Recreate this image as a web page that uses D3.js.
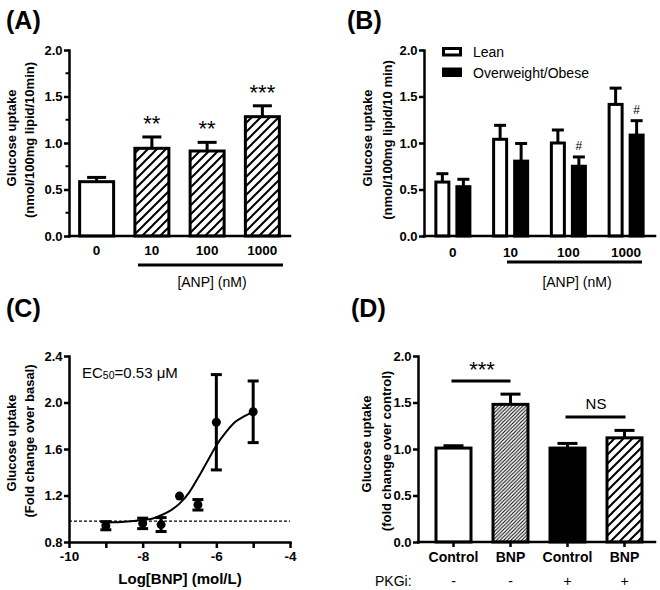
<!DOCTYPE html>
<html><head><meta charset="utf-8">
<script src="https://cdn.jsdelivr.net/npm/d3@7"></script>
<style>body{margin:0;background:#fff}svg{display:block}</style>
</head><body><svg id="c" width="660" height="590"></svg>
<script>
// ---------- DATA ----------
// (A)
const aCats = ["0", "10", "100", "1000"];
const aMean = [0.584, 0.943, 0.914, 1.283];
const aSem  = [0.046, 0.122, 0.093, 0.117];
const aSig  = ["", "**", "**", "***"];
const aTicks = [0, 0.5, 1.0, 1.5, 2.0];
const aMinor = [0.25, 0.75, 1.25, 1.75];
// (B)
const bCats = ["0", "10", "100", "1000"];
const bSeries = ["Lean", "Overweight/Obese"];
const bLean = [0.58, 1.04, 1.00, 1.415];
const bLeanSem = [0.09, 0.15, 0.14, 0.175];
const bObese = [0.53, 0.805, 0.75, 1.085];
const bObeseSem = [0.08, 0.19, 0.10, 0.155];
const bObeseSig = ["", "", "#", "#"];
const bTicks = [0, 0.5, 1.0, 1.5, 2.0];
// (C)
const cX   = [-9, -8, -7.5, -7, -6.5, -6, -5];
const cY   = [0.94, 0.96, 0.95, 1.195, 1.12, 1.83, 1.92];
const cErr = [0.035, 0.045, 0.06, 0.0, 0.045, 0.41, 0.265];
const cFitX = [-9, -8.75, -8.5, -8.25, -8, -7.75, -7.5, -7.25, -7, -6.75, -6.5, -6.25, -6, -5.75, -5.5, -5.25, -5];
const cFitY = [0.97, 0.97, 0.975, 0.98, 0.99, 1.0, 1.03, 1.07, 1.13, 1.22, 1.35, 1.49, 1.63, 1.74, 1.83, 1.88, 1.92];
const cBasal = 0.98;
const cXTicks = [-10, -9, -8, -7, -6, -5, -4];
const cXLabels = [-10, -8, -6, -4];
const cYTicks = [0.8, 1.2, 1.6, 2.0, 2.4];
// (D)
const dCats = ["Control", "BNP", "Control ", "BNP "];
const dMean = [1.01, 1.48, 1.01, 1.12];
const dSem  = [0.025, 0.11, 0.05, 0.08];
const dPKGi = ["-", "-", "+", "+"];
const dTicks = [0, 0.5, 1.0, 1.5, 2.0];

// ---------- SETUP ----------
const F = '"Liberation Sans", Arial, Helvetica, sans-serif';
const svg = d3.select("#c").attr("font-family", F);
const defs = svg.append("defs");
function hatch(id, size, sw) {
  defs.append("pattern").attr("id", id).attr("patternUnits", "userSpaceOnUse")
    .attr("width", size).attr("height", size)
    .append("path")
    .attr("d", `M${-size/4},${size/4} l${size/2},${-size/2} M0,${size} l${size},${-size} M${size*0.75},${size*1.25} l${size/2},${-size/2}`)
    .attr("stroke", "#000").attr("stroke-width", sw);
}
hatch("hc", 9, 2);
hatch("hf", 3.6, 1);

function txt(g, x, y, s, size, weight, anchor) {
  return g.append("text").attr("x", x).attr("y", y).text(s)
    .attr("font-size", size).attr("font-weight", weight || "normal")
    .attr("text-anchor", anchor || "middle").attr("dominant-baseline", "central").attr("fill", "#000");
}
function vtitle(x, y, s, size) {
  svg.append("text").attr("transform", `translate(${x},${y}) rotate(-90)`)
    .attr("text-anchor", "middle").attr("dominant-baseline", "central")
    .attr("font-size", size).attr("font-weight", "bold").text(s);
}
function yAxis(x0, y, ticks, fmt, minor) {
  const g = svg.append("g").attr("transform", `translate(${x0},0)`);
  g.call(d3.axisLeft(y).tickValues(ticks).tickFormat(fmt).tickSize(5).tickSizeOuter(0).tickPadding(1.5));
  g.select(".domain").attr("stroke-width", 2.5).attr("stroke-linecap", "square");
  g.selectAll(".tick line").attr("stroke-width", 2.5);
  g.selectAll("text").attr("font-size", 13).attr("font-weight", "bold").attr("font-family", F).attr("fill", "#000");
  if (minor) {
    g.selectAll(".mn").data(minor).join("line").attr("class", "mn")
      .attr("x1", -3.5).attr("x2", 0).attr("y1", d => y(d)).attr("y2", d => y(d))
      .attr("stroke", "#000").attr("stroke-width", 2);
  }
  return g;
}
function xLine(x0, x1, yv) {
  svg.append("line").attr("x1", x0).attr("x2", x1).attr("y1", yv).attr("y2", yv)
    .attr("stroke", "#000").attr("stroke-width", 2.5).attr("stroke-linecap", "square");
}
function bar(g, cx, w, v, sem, y, fill, capW) {
  g.append("line").attr("x1", cx).attr("x2", cx).attr("y1", y(v)).attr("y2", y(v + sem))
    .attr("stroke", "#000").attr("stroke-width", 3);
  g.append("line").attr("x1", cx - capW/2).attr("x2", cx + capW/2).attr("y1", y(v + sem)).attr("y2", y(v + sem))
    .attr("stroke", "#000").attr("stroke-width", 3);
  g.append("rect").attr("x", cx - w/2).attr("y", y(v)).attr("width", w).attr("height", y(0) - y(v))
    .attr("fill", fill).attr("stroke", "#000").attr("stroke-width", 3);
}

// ---------- PANEL A ----------
{
  const y = d3.scaleLinear().domain([0, 2]).range([236, 50]);
  const p = 0.385;
  const x = d3.scaleBand().domain(aCats).range([69, 290]).paddingInner(p).paddingOuter(p/2);
  const g = svg.append("g");
  aCats.forEach((c, i) => {
    const cx = x(c) + x.bandwidth()/2;
    bar(g, cx, x.bandwidth(), aMean[i], aSem[i], y, i === 0 ? "#fff" : "url(#hc)", 19);
    if (aSig[i]) txt(g, cx, y(aMean[i] + aSem[i]) - 12, aSig[i], 22, "normal").attr("dominant-baseline", "middle");
    txt(g, cx, 250, c, 13.5, "bold");
  });
  yAxis(69, y, aTicks, d3.format(".1f"), aMinor);
  xLine(69, 290, y(0));
  svg.append("line").attr("x1", 138).attr("x2", 283).attr("y1", 265).attr("y2", 265).attr("stroke", "#000").attr("stroke-width", 3);
  txt(svg, 212, 282, "[ANP] (nM)", 14, "normal");
  vtitle(11, 138, "Glucose uptake", 13);
  vtitle(29, 140, "(nmol/100mg lipid/10min)", 13);
  txt(svg, 6, 20, "(A)", 25, "bold", "start");
}

// ---------- PANEL B ----------
{
  const y = d3.scaleLinear().domain([0, 2]).range([236, 50]);
  const p = 0.411;
  const x = d3.scaleBand().domain(bCats).range([424, 655]).paddingInner(p).paddingOuter(p/2);
  const xs = d3.scaleBand().domain(bSeries).range([0, x.bandwidth()]).paddingInner(0.381);
  const g = svg.append("g");
  bCats.forEach((c, i) => {
    const cl = x(c) + xs(bSeries[0]) + xs.bandwidth()/2;
    const co = x(c) + xs(bSeries[1]) + xs.bandwidth()/2;
    bar(g, cl, xs.bandwidth(), bLean[i], bLeanSem[i], y, "#fff", 12);
    bar(g, co, xs.bandwidth(), bObese[i], bObeseSem[i], y, "#000", 12);
    if (bObeseSig[i]) txt(g, co, y(bObese[i] + bObeseSem[i]) - 11, bObeseSig[i], 12, "normal");
    txt(g, x(c) + x.bandwidth()/2, 252, c, 13.5, "bold");
  });
  yAxis(424, y, bTicks, d3.format(".1f"));
  xLine(424, 655, y(0));
  svg.append("line").attr("x1", 507).attr("x2", 642).attr("y1", 262).attr("y2", 262).attr("stroke", "#000").attr("stroke-width", 3);
  txt(svg, 577, 282, "[ANP] (nM)", 14, "normal");
  vtitle(367, 138, "Glucose uptake", 13);
  vtitle(387, 140, "(nmol/100mg lipid/10 min)", 13);
  txt(svg, 347, 20, "(B)", 25, "bold", "start");
  // legend
  const lg = svg.append("g");
  bSeries.forEach((s, i) => {
    lg.append("rect").attr("x", 443.5).attr("y", 48.5 + i * 20.5).attr("width", 17).attr("height", 6.5)
      .attr("fill", i === 0 ? "#fff" : "#000").attr("stroke", "#000").attr("stroke-width", 3);
    txt(lg, 473, 52 + i * 20.5, s, 14, "normal", "start");
  });
}

// ---------- PANEL C ----------
{
  const x = d3.scaleLinear().domain([-10, -4]).range([69, 290]);
  const y = d3.scaleLinear().domain([0.8, 2.4]).range([542, 356]);
  const g = svg.append("g");
  g.append("line").attr("x1", x(-10)).attr("x2", x(-4)).attr("y1", y(cBasal)).attr("y2", y(cBasal))
    .attr("stroke", "#000").attr("stroke-width", 1.2).attr("stroke-dasharray", "3,2");
  const line = d3.line().x((d, i) => x(cFitX[i])).y(d => y(d)).curve(d3.curveMonotoneX);
  g.append("path").attr("d", line(cFitY)).attr("fill", "none").attr("stroke", "#000").attr("stroke-width", 2);
  cX.forEach((xv, i) => {
    if (cErr[i] > 0) {
      const cx = x(xv);
      g.append("line").attr("x1", cx).attr("x2", cx).attr("y1", y(cY[i] - cErr[i])).attr("y2", y(cY[i] + cErr[i]))
        .attr("stroke", "#000").attr("stroke-width", 3);
      [cY[i] - cErr[i], cY[i] + cErr[i]].forEach(v => {
        g.append("line").attr("x1", cx - 5.5).attr("x2", cx + 5.5).attr("y1", y(v)).attr("y2", y(v))
          .attr("stroke", "#000").attr("stroke-width", 3);
      });
    }
  });
  g.selectAll("circle").data(cY).join("circle")
    .attr("cx", (d, i) => x(cX[i])).attr("cy", d => y(d)).attr("r", 4.5).attr("fill", "#000");
  yAxis(69, y, cYTicks, d3.format(".1f"));
  const gx = svg.append("g").attr("transform", `translate(0,542)`);
  gx.call(d3.axisBottom(x).tickValues(cXTicks).tickFormat(d => cXLabels.includes(d) ? String(d) : "").tickSize(6).tickSizeOuter(0).tickPadding(3));
  gx.select(".domain").attr("stroke-width", 2.5).attr("stroke-linecap", "square");
  gx.selectAll(".tick line").attr("stroke-width", 2.5);
  gx.selectAll("text").attr("font-size", 13.5).attr("font-weight", "bold").attr("font-family", F).attr("fill", "#000");
  txt(svg, 180, 578, "Log[BNP] (mol/L)", 15, "bold");
  vtitle(11, 443, "Glucose uptake", 13);
  vtitle(29, 441, "(Fold change over basal)", 13);
  txt(svg, 6, 308, "(C)", 25, "bold", "start");
  const t = svg.append("text").attr("x", 82).attr("y", 372).attr("dominant-baseline", "central")
    .attr("font-size", 15).attr("fill", "#000");
  t.append("tspan").text("EC");
  t.append("tspan").text("50").attr("font-size", 10.5).attr("dy", 3);
  t.append("tspan").text("=0.53 μM").attr("dy", -3);
}

// ---------- PANEL D ----------
{
  const y = d3.scaleLinear().domain([0, 2]).range([542, 356]);
  const p = 0.386;
  const x = d3.scaleBand().domain(dCats).range([425, 653]).paddingInner(p).paddingOuter(p/2);
  const fills = ["#fff", "url(#hf)", "#000", "url(#hc)"];
  const g = svg.append("g");
  dCats.forEach((c, i) => {
    const cx = x(c) + x.bandwidth()/2;
    bar(g, cx, x.bandwidth(), dMean[i], dSem[i], y, fills[i], 20);
    txt(g, cx, 557, c.trim(), 14, "bold");
    txt(g, cx, 581, dPKGi[i], 14, "normal");
    g.append("line").attr("x1", cx).attr("x2", cx).attr("y1", 542).attr("y2", 547).attr("stroke", "#000").attr("stroke-width", 2.5);
  });
  yAxis(418, y, dTicks, d3.format(".1f"));
  xLine(418, 655, y(0));
  const c = i => x(dCats[i]) + x.bandwidth()/2;
  g.append("line").attr("x1", c(0) - 2).attr("x2", c(1)).attr("y1", 381).attr("y2", 381).attr("stroke", "#000").attr("stroke-width", 3);
  txt(g, (c(0) + c(1))/2, 371, "***", 22, "normal").attr("dominant-baseline", "middle");
  g.append("line").attr("x1", c(2) - 2).attr("x2", c(3) + 1).attr("y1", 417).attr("y2", 417).attr("stroke", "#000").attr("stroke-width", 3);
  txt(g, (c(2) + c(3))/2, 403, "NS", 15, "normal");
  txt(svg, 375, 581, "PKGi:", 14, "normal", "start");
  vtitle(366, 444, "Glucose uptake", 13);
  vtitle(386, 451, "(fold change over control)", 13);
  txt(svg, 351, 308, "(D)", 25, "bold", "start");
}
</script>
</body></html>
